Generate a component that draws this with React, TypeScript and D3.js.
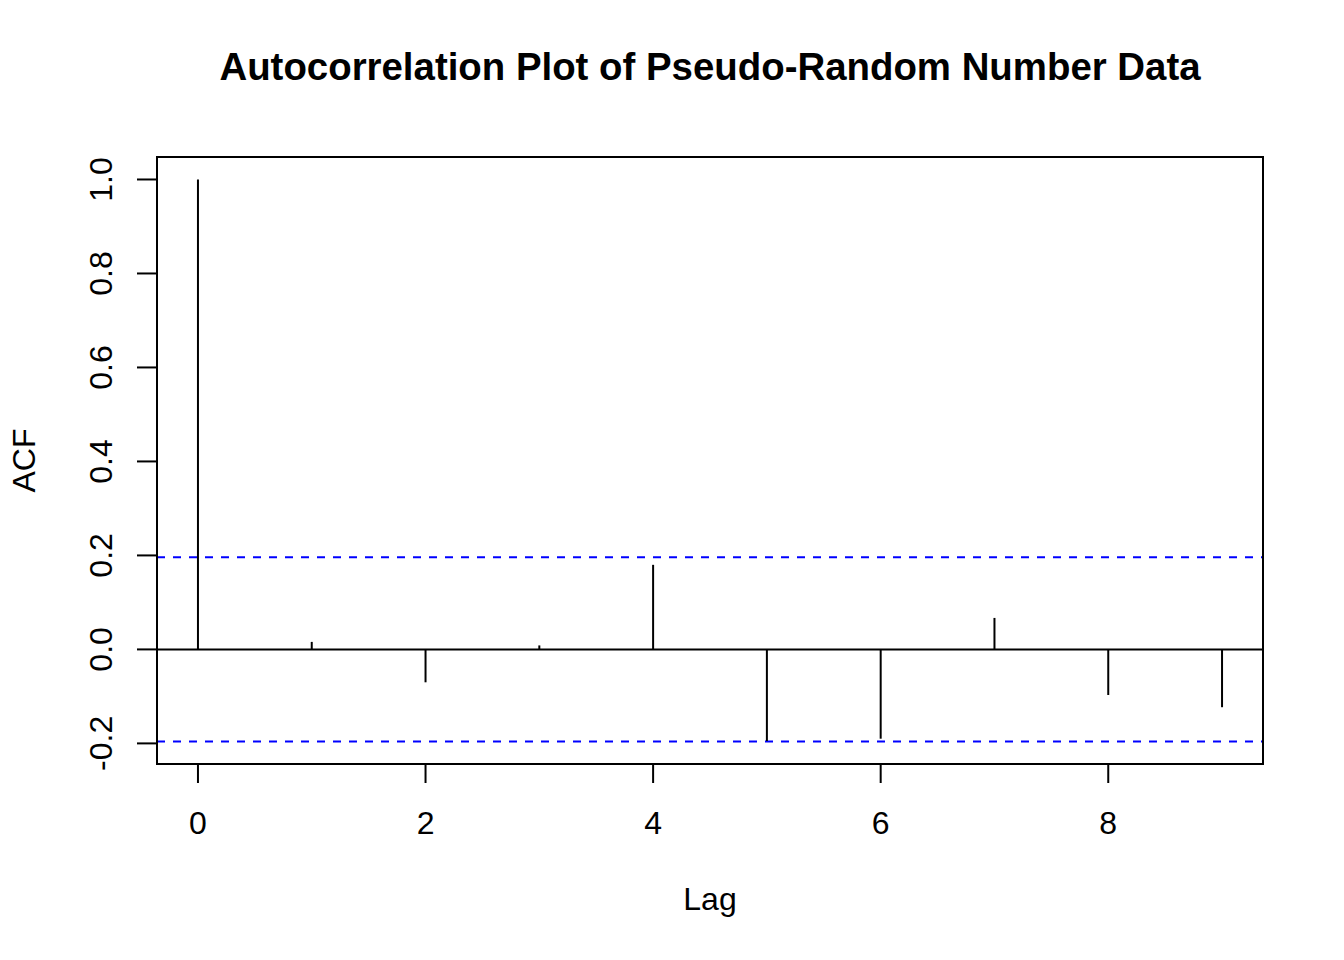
import React from "react";
import * as d3 from "d3";

const lags = [0, 1, 2, 3, 4, 5, 6, 7, 8, 9];
const acfValues = [1.0, 0.016, -0.07, 0.0085, 0.18, -0.195, -0.19, 0.067, -0.097, -0.123];
const confLimit = 0.196;
const xTicks = [0, 2, 4, 6, 8];
const yTicks = [-0.2, 0, 0.2, 0.4, 0.6, 0.8, 1.0];
const title = "Autocorrelation Plot of Pseudo-Random Number Data";
const xLabel = "Lag";
const yLabel = "ACF";

const W = 1344;
const H = 960;
const left = 157;
const right = 1263;
const top = 157;
const bottom = 764;
const FONT = "'Liberation Sans', Arial, sans-serif";

function padded(min: number, max: number): [number, number] {
  const r = max - min;
  return [min - 0.04 * r, max + 0.04 * r];
}

export default function App() {
  const xr = d3.extent(lags) as [number, number];
  const yMin = Math.min(-confLimit, d3.min(acfValues)!);
  const yMax = Math.max(confLimit, d3.max(acfValues)!);
  const x = d3.scaleLinear().domain(padded(xr[0], xr[1])).range([left, right]);
  const y = d3.scaleLinear().domain(padded(yMin, yMax)).range([bottom, top]);
  const cx = (left + right) / 2;
  const cy = (top + bottom) / 2;
  const sw = 2;

  return (
    <svg
      width={W}
      height={H}
      viewBox={`0 0 ${W} ${H}`}
      style={{ position: "absolute", left: 0, top: 0, background: "#fff" }}
      fontFamily={FONT}
    >
      <rect x={0} y={0} width={W} height={H} fill="#fff" />
      <text x={cx} y={80} textAnchor="middle" fontSize={38.4} fontWeight="bold">
        {title}
      </text>
      {/* zero line */}
      <line x1={left} x2={right} y1={y(0)} y2={y(0)} stroke="#000" strokeWidth={sw} />
      {/* confidence limits */}
      {[confLimit, -confLimit].map((c, i) => (
        <line
          key={i}
          x1={left}
          x2={right}
          y1={y(c)}
          y2={y(c)}
          stroke="#0000ff"
          strokeWidth={sw}
          strokeDasharray="8,8"
        />
      ))}
      {/* spikes */}
      {lags.map((l, i) => (
        <line
          key={l}
          x1={x(l)}
          x2={x(l)}
          y1={y(0)}
          y2={y(acfValues[i])}
          stroke="#000"
          strokeWidth={sw}
        />
      ))}
      {/* box */}
      <rect
        x={left}
        y={top}
        width={right - left}
        height={bottom - top}
        fill="none"
        stroke="#000"
        strokeWidth={sw}
      />
      {/* x axis */}
      {xTicks.map((t) => (
        <g key={t}>
          <line x1={x(t)} x2={x(t)} y1={bottom} y2={bottom + 19} stroke="#000" strokeWidth={sw} />
          <text x={x(t)} y={834} textAnchor="middle" fontSize={32}>
            {t}
          </text>
        </g>
      ))}
      {/* y axis */}
      {yTicks.map((t) => (
        <g key={t}>
          <line x1={left - 20} x2={left} y1={y(t)} y2={y(t)} stroke="#000" strokeWidth={sw} />
          <text
            transform={`translate(112,${y(t)}) rotate(-90)`}
            textAnchor="middle"
            fontSize={32}
          >
            {t.toFixed(1)}
          </text>
        </g>
      ))}
      <text x={cx} y={910} textAnchor="middle" fontSize={32}>
        {xLabel}
      </text>
      <text transform={`translate(35,${cy}) rotate(-90)`} textAnchor="middle" fontSize={32}>
        {yLabel}
      </text>
    </svg>
  );
}
